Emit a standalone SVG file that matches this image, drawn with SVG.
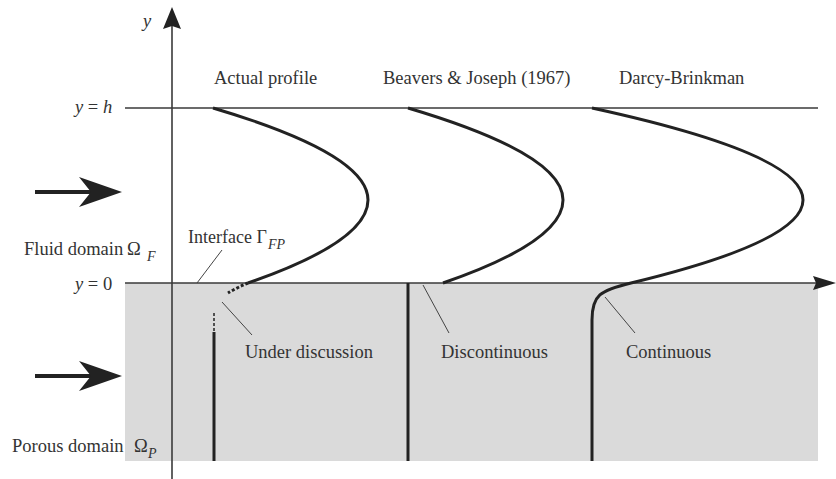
<svg xmlns="http://www.w3.org/2000/svg" width="836" height="479" viewBox="0 0 836 479">
<style>
text{font-family:"Liberation Serif","Times New Roman",serif;font-size:18.5px;fill:#333}
.it{font-style:italic}
.sub{font-style:italic;font-size:14px}
.axis{stroke:#3a3a3a;stroke-width:1.6;fill:none}
.prof{stroke:#222;stroke-width:3;fill:none}
.lead{stroke:#444;stroke-width:1;fill:none}
.head{fill:#222}
</style>
<rect id="porous" x="125" y="283" width="693" height="178" fill="#dadada"/>
<g id="axes">
<line class="axis" x1="172" y1="24" x2="172" y2="479"/>
<path class="head" d="M172,7 L181,29 L172,26 L163,29 Z"/>
<line class="axis" x1="125" y1="108" x2="818" y2="108"/>
<line class="axis" x1="125" y1="283" x2="818" y2="283"/>
<path class="head" d="M836,283 L813,276 L816,283 L813,290 Z"/>
</g>
<g id="flow-arrows">
<line x1="35" y1="192" x2="92" y2="192" stroke="#222" stroke-width="4"/>
<path class="head" d="M122,192 L79,177 L91,192 L79,207 Z"/>
<line x1="35" y1="376" x2="92" y2="376" stroke="#222" stroke-width="4"/>
<path class="head" d="M122,376 L79,361 L91,376 L79,391 Z"/>
</g>
<g id="actual-profile">
<path class="prof" d="M213,108 Q368,154 368,200 Q368,241.5 248,283"/>
<path class="prof" d="M248,283 Q238,287 228,293" stroke-width="1.5" stroke-dasharray="3,2"/>
<line x1="214" y1="313" x2="214" y2="332" stroke="#222" stroke-width="1.5" stroke-dasharray="3,2"/>
<line class="prof" x1="214" y1="332" x2="214" y2="461"/>
</g>
<g id="beavers-joseph">
<path class="prof" d="M408,108 Q563,154 563,200 Q563,241.5 443,283"/>
<line class="prof" x1="408" y1="283" x2="408" y2="461"/>
</g>
<g id="darcy-brinkman">
<path class="prof" d="M592,108 Q803,154 803,200 Q803,241.5 631,283 C600,290.5 592,295 592,320 L592,461"/>
</g>
<g id="connectors">
<line class="lead" x1="197" y1="283" x2="222" y2="250"/>
<line class="lead" x1="222" y1="302" x2="252" y2="335"/>
<line class="lead" x1="423" y1="285" x2="449" y2="333"/>
<line class="lead" x1="605" y1="297" x2="635" y2="333"/>
</g>
<g id="labels">
<text class="it" x="143" y="27">y</text>
<text x="75" y="113"><tspan class="it">y</tspan> = <tspan class="it">h</tspan></text>
<text x="75" y="290"><tspan class="it">y</tspan> = 0</text>
<text x="214" y="84">Actual profile</text>
<text x="383" y="84">Beavers &amp; Joseph (1967)</text>
<text x="619" y="84">Darcy-Brinkman</text>
<text x="24" y="255">Fluid domain</text>
<text x="127" y="255">Ω</text>
<text class="sub" x="147" y="261">F</text>
<text x="188" y="243" style="font-size:18px">Interface Γ</text>
<text class="sub" x="268" y="249">FP</text>
<text x="245" y="358">Under discussion</text>
<text x="441" y="358">Discontinuous</text>
<text x="626" y="358">Continuous</text>
<text x="12" y="452">Porous domain</text>
<text x="134" y="452">Ω</text>
<text class="sub" x="148" y="458">P</text>
</g>
</svg>
